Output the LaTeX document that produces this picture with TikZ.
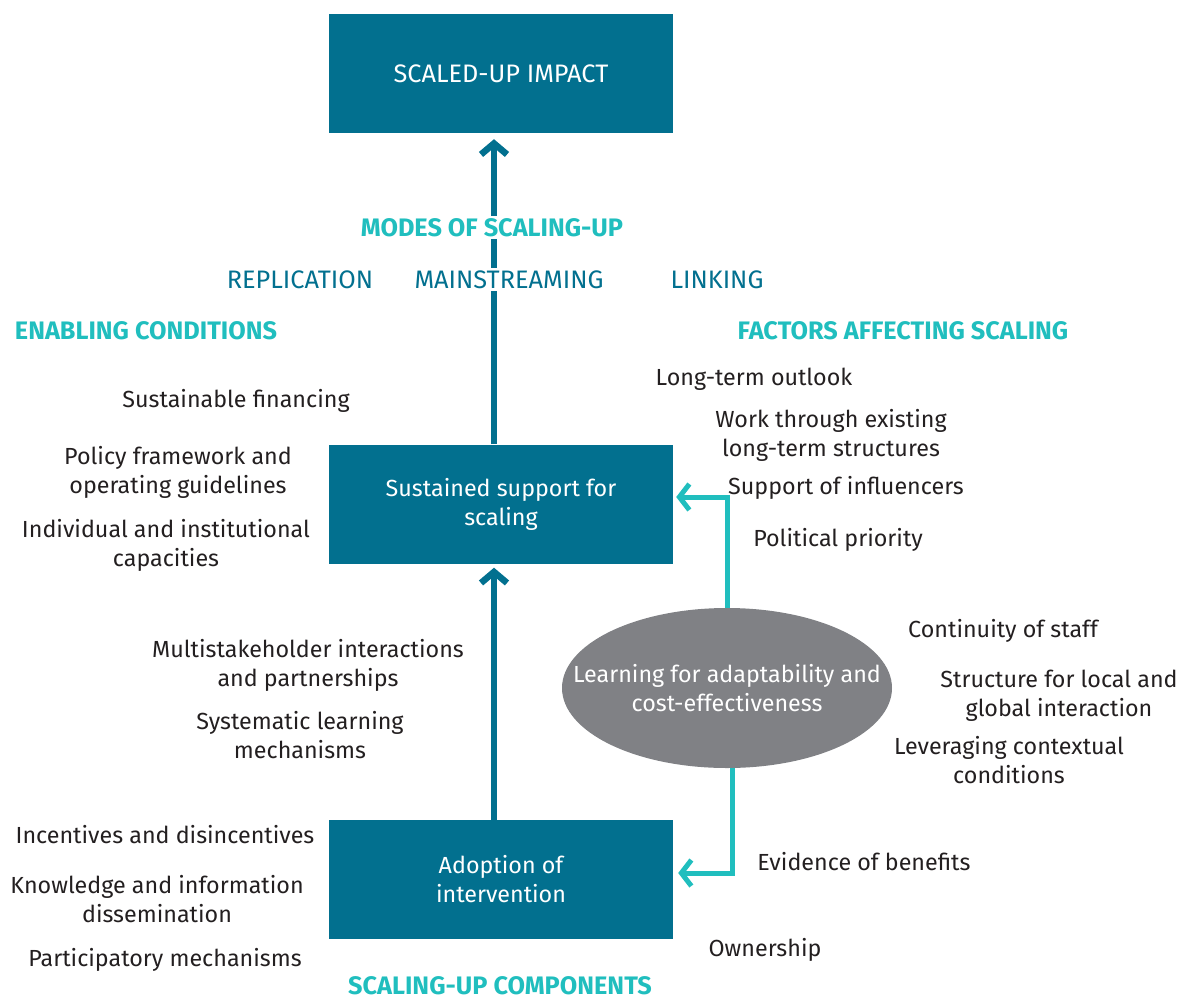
\documentclass[tikz,border=0pt]{standalone}
\usepackage{fontspec}
\setmainfont{Fira Sans}
\usetikzlibrary{arrows.meta,shapes.geometric}
\definecolor{dteal}{RGB}{2,112,143}
\definecolor{lteal}{RGB}{32,190,190}
\definecolor{egray}{RGB}{128,129,133}
\definecolor{txt}{RGB}{35,31,32}
\newcommand\fs{\fontsize{23.3}{29}\selectfont}
\newcommand\fc{\fontsize{25.3}{29}\selectfont}
\begin{document}
\begin{tikzpicture}[x=1pt,y=-1pt,
 box/.style={fill=dteal, text=white, minimum width=344pt, minimum height=119pt, inner sep=0pt, align=center, font=\fs},
 lbl/.style={align=center, font=\fs, text=txt, inner sep=1pt, yshift=-1.5pt},
 mode/.style={font=\fc, text=dteal, fill=white, inner sep=2pt, yshift=-1.5pt},
 head/.style={font=\fc\bfseries, text=lteal, fill=white, inner sep=2pt, yshift=-1.5pt},
 mainarrow/.style={draw=dteal, line width=6.5pt, -{Straight Barb[length=11pt,width=26pt]}},
 learnarrow/.style={draw=lteal, line width=5pt, -{Straight Barb[length=10pt,width=26pt]}}]
\useasboundingbox (0,0) rectangle (1183,999);
\node[box, font=\fc] (top) at (501,73.5) {SCALED-UP IMPACT};
\node[box] (mid) at (501,504) {Sustained support for\\scaling};
\node[box] (bot) at (501,879.5) {Adoption of\\intervention};
\node[ellipse, fill=egray, text=white, minimum width=330pt, minimum height=160pt, inner xsep=-40pt, inner ysep=0pt, align=center, font=\fs] (ell) at (727,688) {Learning for adaptability and\\cost-effectiveness};
% connectors
\draw[mainarrow, shorten >=6pt] (mid.north -| 494,0) -- (top.south -| 494,0);
\draw[mainarrow, shorten >=4pt] (bot.north -| 494,0) -- (mid.south -| 494,0);
\draw[learnarrow, shorten >=3pt] (ell.north) |- ([yshift=7pt]mid.east);
\draw[learnarrow, shorten >=5pt] ([xshift=5pt]ell.south) |- ([yshift=6.5pt]bot.east);
% headings and modes
\node[head] (hmodes) at (492,226) {MODES OF SCALING-UP};
\node[mode] (mrep) at (300,278) {REPLICATION};
\node[mode] (mmain) at (509,278) {MAINSTREAMING};
\node[mode] (mlink) at (717,278) {LINKING};
\node[head] (henab) at (146,329) {ENABLING CONDITIONS};
\node[head] (hfact) at (903,329) {FACTORS AFFECTING SCALING};
\node[font=\fc\bfseries, text=lteal, inner sep=0pt, anchor=base] (hcomp) at (500,994.5) {SCALING-UP COMPONENTS};
% enabling conditions
\node[lbl] (e1) at (236,399) {Sustainable financing};
\node[lbl] (e2) at (178,471) {Policy framework and\\operating guidelines};
\node[lbl] (e3) at (166,544) {Individual and institutional\\capacities};
% factors
\node[lbl] (f1) at (754,378) {Long-term outlook};
\node[lbl] (f2) at (831,434) {Work through existing\\long-term structures};
\node[lbl] (f3) at (846,486) {Support of influencers};
\node[lbl] (f4) at (838,538) {Political priority};
\node[lbl] (f5) at (1003,629) {Continuity of staff};
\node[lbl] (f6) at (1059,694) {Structure for local and\\global interaction};
\node[lbl] (f7) at (1009,759) {Leveraging contextual\\conditions};
\node[lbl] (f8) at (864,860) {Evidence of benefits};
\node[lbl] (f9) at (765,948) {Ownership};
% components
\node[lbl] (c1) at (308,664) {Multistakeholder interactions\\and partnerships};
\node[lbl] (c2) at (300,734) {Systematic learning\\mechanisms};
\node[lbl] (c3) at (165,833) {Incentives and disincentives};
\node[lbl] (c4) at (157,898) {Knowledge and information\\dissemination};
\node[lbl] (c5) at (165,958) {Participatory mechanisms};
\end{tikzpicture}
\end{document}
